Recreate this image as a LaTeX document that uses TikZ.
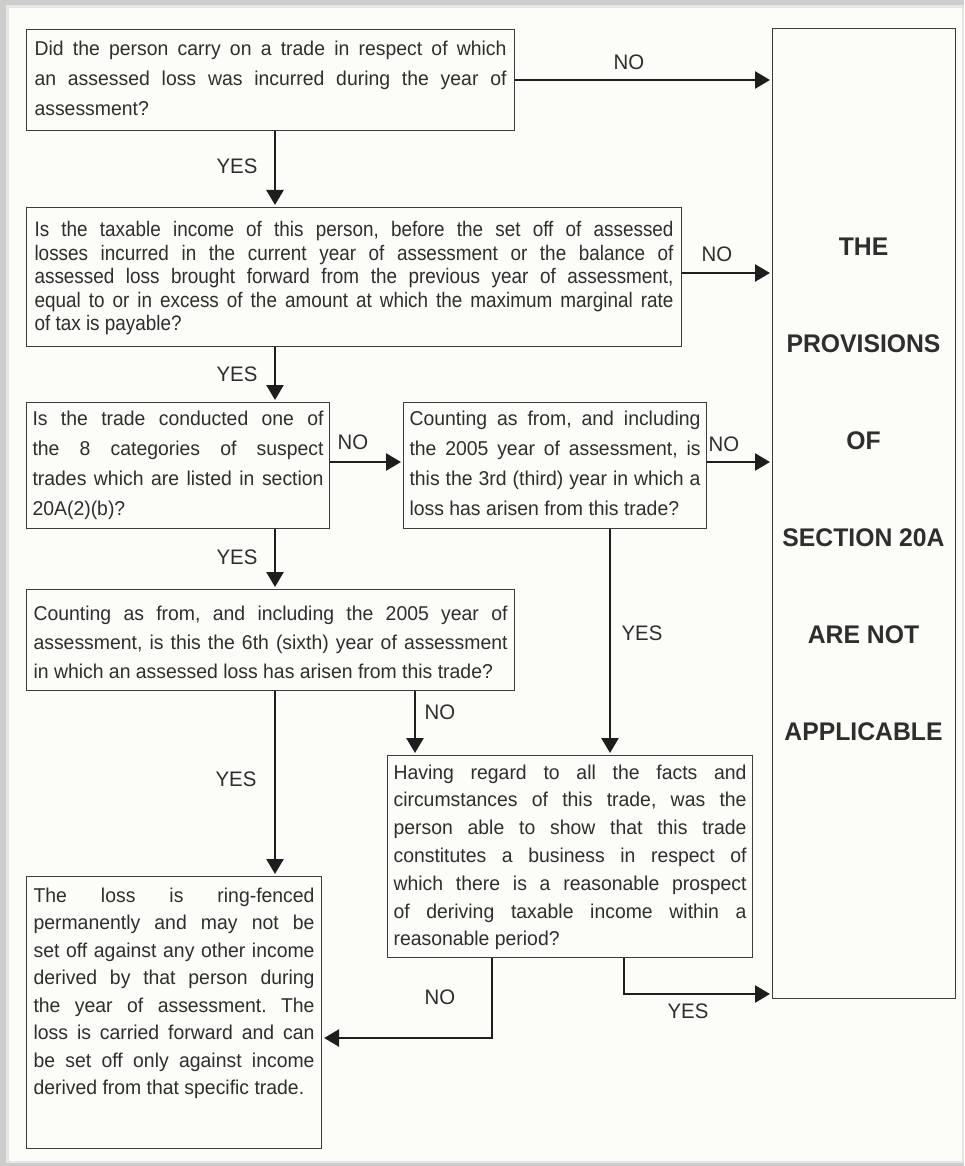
\documentclass[tikz,border=0pt]{standalone}
\usepackage{fontspec}
\setmainfont{Liberation Sans}[FakeStretch=0.97]
\newfontfamily\condfont{Liberation Sans}[FakeStretch=0.9]
\usetikzlibrary{arrows.meta}
\definecolor{bg}{HTML}{FCFCF8}
\definecolor{frameA}{HTML}{CDCDCD}
\definecolor{frameB}{HTML}{E6E6E4}
\definecolor{ink}{HTML}{2E2E2E}
\definecolor{edge}{HTML}{3C3C3C}
\definecolor{arrowc}{HTML}{1E1E1E}
\newcommand{\bt}[4]{\parbox[c][#2pt][t]{#1pt}{\fontsize{20}{#3}\selectfont\frenchspacing\tolerance=10000 #4}}
\begin{document}
\begin{tikzpicture}[x=1pt,y=-1pt,
  box/.style={draw=edge,line width=1.1pt,inner sep=0pt,anchor=north west,text=ink},
  lbl/.style={font=\fontsize{21}{21}\selectfont,text=ink,inner sep=0pt},
  arr/.style={draw=arrowc,line width=2.6pt,-{Triangle[length=15pt,width=17pt]},shorten >=2pt}]
% background and frame
\fill[frameA] (0,0) rectangle (964,1166);
\fill[frameB] (6,5) rectangle (964,1163);
\fill[bg] (9,8) rectangle (962,1161);
\useasboundingbox (0,0) rectangle (964,1166);

% boxes
\node[box,minimum width=488pt,minimum height=101pt] (b1) at (26,29)
  {\bt{472}{79}{30}{Did the person carry on a trade in respect of which\linebreak an assessed loss was incurred during the year of\linebreak assessment?}};
\node[box,minimum width=655pt,minimum height=139pt] (b2) at (26,207)
  {\parbox[c][111pt][t]{639pt}{\condfont\fontsize{21}{23.5}\selectfont\frenchspacing\tolerance=10000 Is the taxable income of this person, before the set off of assessed\linebreak losses incurred in the current year of assessment or the balance of\linebreak assessed loss brought forward from the previous year of assessment,\linebreak equal to or in excess of the amount at which the maximum marginal rate\linebreak of tax is payable?}};
\node[box,minimum width=303pt,minimum height=126pt] (b3) at (26,402)
  {\bt{291}{110}{30}{Is the trade conducted one of\linebreak the 8 categories of suspect\linebreak trades which are listed in section\linebreak 20A(2)(b)?}};
\node[box,minimum width=303pt,minimum height=126pt] (b4) at (403,402)
  {\bt{291}{110}{30}{Counting as from, and including\linebreak the 2005 year of assessment, is\linebreak this the 3rd (third) year in which a\linebreak loss has arisen from this trade?}};
\node[box,minimum width=488pt,minimum height=101pt] (b5) at (26,589)
  {\bt{474}{69}{29}{Counting as from, and including the 2005 year of\linebreak assessment, is this the 6th (sixth) year of assessment\linebreak in which an assessed loss has arisen from this trade?}};
\node[box,minimum width=365pt,minimum height=202pt] (b6) at (387,755)
  {\bt{353}{184}{27.8}{Having regard to all the facts and\linebreak circumstances of this trade, was the\linebreak person able to show that this trade\linebreak constitutes a business in respect of\linebreak which there is a reasonable prospect\linebreak of deriving taxable income within a\linebreak reasonable period?}};
\node[box,minimum width=295pt,minimum height=272pt] (b7) at (26,876)
  {\bt{281}{250}{27.5}{The loss is ring-fenced\linebreak permanently and may not be\linebreak set off against any other income\linebreak derived by that person during\linebreak the year of assessment. The\linebreak loss is carried forward and can\linebreak be set off only against income\linebreak derived from that specific trade.}};
\node[box,minimum width=183pt,minimum height=970pt] (R) at (772,28) {};
\node[font=\bfseries\fontsize{25.5}{97}\selectfont,align=center,text=ink,inner sep=0pt] (rt) at (863.5,489.5)
  {THE\\PROVISIONS\\OF\\SECTION 20A\\ARE NOT\\APPLICABLE};

% helper coordinates
\coordinate (xa) at (275,0);
\coordinate (xb) at (610,0);
\coordinate (xc) at (415,0);
\coordinate (xe) at (492,0);
\coordinate (xf) at (624,0);
\coordinate (yn1) at (0,80);
\coordinate (yn2) at (0,273);
\coordinate (yn3) at (0,462);
\coordinate (yn6) at (0,1038);
\coordinate (yy6) at (0,994);

% connectors
\draw[arr] (b1.south -| xa) -- (b2.north -| xa);
\draw[arr] (b1.east |- yn1) -- (R.west |- yn1);
\draw[arr] (b2.east |- yn2) -- (R.west |- yn2);
\draw[arr] (b2.south -| xa) -- (b3.north -| xa);
\draw[arr] (b3.east |- yn3) -- (b4.west |- yn3);
\draw[arr] (b4.east |- yn3) -- (R.west |- yn3);
\draw[arr] (b3.south -| xa) -- (b5.north -| xa);
\draw[arr] (b4.south -| xb) -- (b6.north -| xb);
\draw[arr] (b5.south -| xc) -- (b6.north -| xc);
\draw[arr] (b5.south -| xa) -- (b7.north -| xa);
\draw[arr] (b6.south -| xe) |- (b7.east |- yn6);
\draw[arr] (b6.south -| xf) |- (R.west |- yy6);

% labels
\node[lbl] (l1) at (237,166) {YES};
\node[lbl] (l2) at (629,62) {NO};
\node[lbl] (l3) at (717,254) {NO};
\node[lbl] (l4) at (237,374) {YES};
\node[lbl] (l5) at (353,442) {NO};
\node[lbl] (l6) at (724,444) {NO};
\node[lbl] (l7) at (237,557) {YES};
\node[lbl] (l8) at (642,633) {YES};
\node[lbl] (l9) at (440,712) {NO};
\node[lbl] (l10) at (236,779) {YES};
\node[lbl] (l11) at (440,997) {NO};
\node[lbl] (l12) at (688,1011) {YES};
\end{tikzpicture}
\end{document}
